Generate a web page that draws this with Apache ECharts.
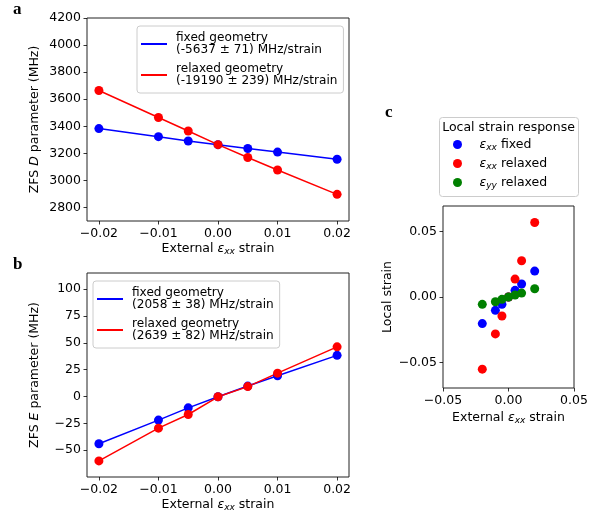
<!DOCTYPE html>
<html><head><meta charset="utf-8">
<script src="https://cdn.jsdelivr.net/npm/echarts@6/dist/echarts.min.js"></script>
<style>html,body{margin:0;padding:0;background:#fff}#c{width:609px;height:515px}</style>
</head><body><div id="c"></div>
<script>
const externalStrain = [-0.02, -0.01, -0.005, 0, 0.005, 0.01, 0.02];
const dFixed   = [3383, 3323, 3291, 3264, 3236, 3209, 3156];
const dRelaxed = [3664, 3465, 3365, 3264, 3169, 3077, 2897];
const eFixed   = [-44, -22, -10.6, -0.3, 9.7, 19.3, 38.3];
const eRelaxed = [-60, -29.5, -16.8, -0.3, 9.2, 21.7, 46.2];
const exxFixedLocal   = [-0.0203, -0.0102, -0.0056, 0, 0.0051, 0.0099, 0.0198];
const exxRelaxedLocal = [-0.0551, -0.0282, -0.0145, 0, 0.0137, 0.0277, 0.0569];
const eyyRelaxedLocal = [-0.0056, -0.0036, -0.0018, 0, 0.0015, 0.0030, 0.0063];
const ticksAX = [-0.02, -0.01, 0, 0.01, 0.02];
const ticksAY = [2800, 3000, 3200, 3400, 3600, 3800, 4000, 4200];
const ticksBY = [-50, -25, 0, 25, 50, 75, 100];
const ticksCX = [-0.05, 0, 0.05];
const ticksCY = [-0.05, 0, 0.05];
const legendA = {
  aFixed: 'fixed geometry\n(-5637 ± 71) MHz/strain',
  aRelaxed: 'relaxed geometry\n(-19190 ± 239) MHz/strain'
};
const legendB = {
  bFixed: 'fixed geometry\n(2058 ± 38) MHz/strain',
  bRelaxed: 'relaxed geometry\n(2639 ± 82) MHz/strain'
};
const legendC = {
  cExxFixed: '{e|ε}{s|xx} fixed',
  cExxRelaxed: '{e|ε}{s|xx} relaxed',
  cEyyRelaxed: '{e|ε}{s|yy} relaxed'
};

const FONT = '"DejaVu Sans", sans-serif';
const FS = 12.5;
const LFS = 12.1;
const pair = (xs, ys) => xs.map((x, i) => [x, ys[i]]);
const minusFmt = d => v => (v < 0 ? '\u2212' : '') + Math.abs(v).toFixed(d);
const richSub = {
  e: { fontStyle: 'italic', fontSize: FS, fontFamily: FONT, lineHeight: 15 },
  s: { fontStyle: 'italic', fontSize: 9, fontFamily: FONT, lineHeight: 9, verticalAlign: 'bottom' },
  i: { fontStyle: 'italic', fontSize: FS, fontFamily: FONT }
};

function xAxis(gi, ticks, min, max, fmtD, name, gap) {
  return {
    type: 'value', gridIndex: gi, min, max,
    axisLine: { show: false, onZero: false },
    axisTick: { show: true, length: 3.5, lineStyle: { color: '#000', width: 0.8 }, customValues: ticks },
    axisLabel: { customValues: ticks, formatter: minusFmt(fmtD), color: '#000', fontSize: FS, fontFamily: FONT, margin: 6 },
    splitLine: { show: false },
    name, nameLocation: 'middle', nameGap: gap,
    nameTextStyle: { color: '#000', fontSize: FS, fontFamily: FONT, lineHeight: 15, rich: richSub }
  };
}
function yAxis(gi, ticks, min, max, fmt, name, gap) {
  return {
    type: 'value', gridIndex: gi, min, max,
    axisLine: { show: false, onZero: false },
    axisTick: { show: true, length: 3.5, lineStyle: { color: '#000', width: 0.8 }, customValues: ticks },
    axisLabel: { customValues: ticks, formatter: fmt, color: '#000', fontSize: FS, fontFamily: FONT, margin: 6 },
    splitLine: { show: false },
    name, nameLocation: 'middle', nameGap: gap,
    nameTextStyle: { color: '#000', fontSize: FS, fontFamily: FONT, lineHeight: 15, rich: richSub }
  };
}
function lineSeries(name, gi, ys, color) {
  return {
    name, type: 'line', xAxisIndex: gi, yAxisIndex: gi,
    data: pair(externalStrain, ys),
    symbol: 'circle', symbolSize: 9, showSymbol: true,
    lineStyle: { color, width: 1.5 }, itemStyle: { color },
    animation: false
  };
}
function scatterSeries(name, ys, color) {
  return {
    name, type: 'scatter', xAxisIndex: 2, yAxisIndex: 2,
    data: pair(externalStrain, ys), symbolSize: 9,
    itemStyle: { color, opacity: 1 }, animation: false
  };
}
const intFmt = v => (v < 0 ? '\u2212' : '') + Math.abs(v);

const legendCommon = {
  orient: 'vertical', itemWidth: 26, itemHeight: 2, icon: 'rect', itemGap: 7,
  borderColor: '#ccc', borderWidth: 1, borderRadius: 3, backgroundColor: '#fff',
  padding: [6, 6, 6, 4], selectedMode: false,
  textStyle: { color: '#000', fontSize: LFS, fontFamily: FONT, lineHeight: 12, padding: [0, 0, 0, 4] }
};

const option = {
  animation: false,
  backgroundColor: '#fff',
  grid: [
    { left: 87, top: 18, width: 262, height: 203, show: true, borderColor: '#222', borderWidth: 1, backgroundColor: 'transparent' },
    { left: 87, top: 273, width: 262, height: 204, show: true, borderColor: '#222', borderWidth: 1, backgroundColor: 'transparent' },
    { left: 443, top: 206, width: 131, height: 182, show: true, borderColor: '#222', borderWidth: 1, backgroundColor: 'transparent' }
  ],
  xAxis: [
    xAxis(0, ticksAX, -0.022, 0.022, 2, 'External {e|ε}{s|xx} strain', 19),
    xAxis(1, ticksAX, -0.022, 0.022, 2, 'External {e|ε}{s|xx} strain', 20),
    xAxis(2, ticksCX, -0.05, 0.05, 2, 'External {e|ε}{s|xx} strain', 22)
  ],
  yAxis: [
    yAxis(0, ticksAY, 2700, 4200, intFmt, 'ZFS {i|D} parameter (MHz)', 45),
    yAxis(1, ticksBY, -75, 115, intFmt, 'ZFS {i|E} parameter (MHz)', 45),
    yAxis(2, ticksCY, -0.0695, 0.0695, minusFmt(2), 'Local strain', 48)
  ],
  legend: [
    Object.assign({}, legendCommon, { left: 137, top: 26, data: ['aFixed', 'aRelaxed'], formatter: n => legendA[n] }),
    Object.assign({}, legendCommon, { left: 93, top: 281, data: ['bFixed', 'bRelaxed'], formatter: n => legendB[n] }),
    {
      orient: 'vertical', left: 453, top: 137, itemWidth: 34, itemHeight: 9, icon: 'circle', itemGap: 4,
      selectedMode: false, padding: 0,
      data: ['cExxFixed', 'cExxRelaxed', 'cEyyRelaxed'], formatter: n => legendC[n],
      textStyle: { color: '#000', fontSize: FS, fontFamily: FONT, lineHeight: 15, rich: richSub }
    }
  ],
  graphic: [
    { type: 'rect', shape: { x: 439.5, y: 117.5, width: 139, height: 79, r: 3 }, style: { fill: 'none', stroke: '#ccc', lineWidth: 1 }, z: 1 },
    { type: 'text', x: 508.5, y: 128, style: { text: 'Local strain response', fontSize: FS, fontFamily: FONT, fill: '#000', align: 'center', verticalAlign: 'middle' } },
    { type: 'text', x: 13, y: 18, style: { text: 'a', font: 'bold 17px "Liberation Serif", serif', fill: '#000', verticalAlign: 'bottom' } },
    { type: 'text', x: 13, y: 273, style: { text: 'b', font: 'bold 17px "Liberation Serif", serif', fill: '#000', verticalAlign: 'bottom' } },
    { type: 'text', x: 385, y: 121, style: { text: 'c', font: 'bold 17px "Liberation Serif", serif', fill: '#000', verticalAlign: 'bottom' } }
  ],
  series: [
    lineSeries('aFixed', 0, dFixed, '#0000ff'),
    lineSeries('aRelaxed', 0, dRelaxed, '#ff0000'),
    lineSeries('bFixed', 1, eFixed, '#0000ff'),
    lineSeries('bRelaxed', 1, eRelaxed, '#ff0000'),
    scatterSeries('cExxFixed', exxFixedLocal, '#0000ff'),
    scatterSeries('cExxRelaxed', exxRelaxedLocal, '#ff0000'),
    scatterSeries('cEyyRelaxed', eyyRelaxedLocal, '#008000')
  ]
};
const chart = echarts.init(document.getElementById('c'), null, { renderer: 'canvas' });
chart.setOption(option);
</script></body></html>
